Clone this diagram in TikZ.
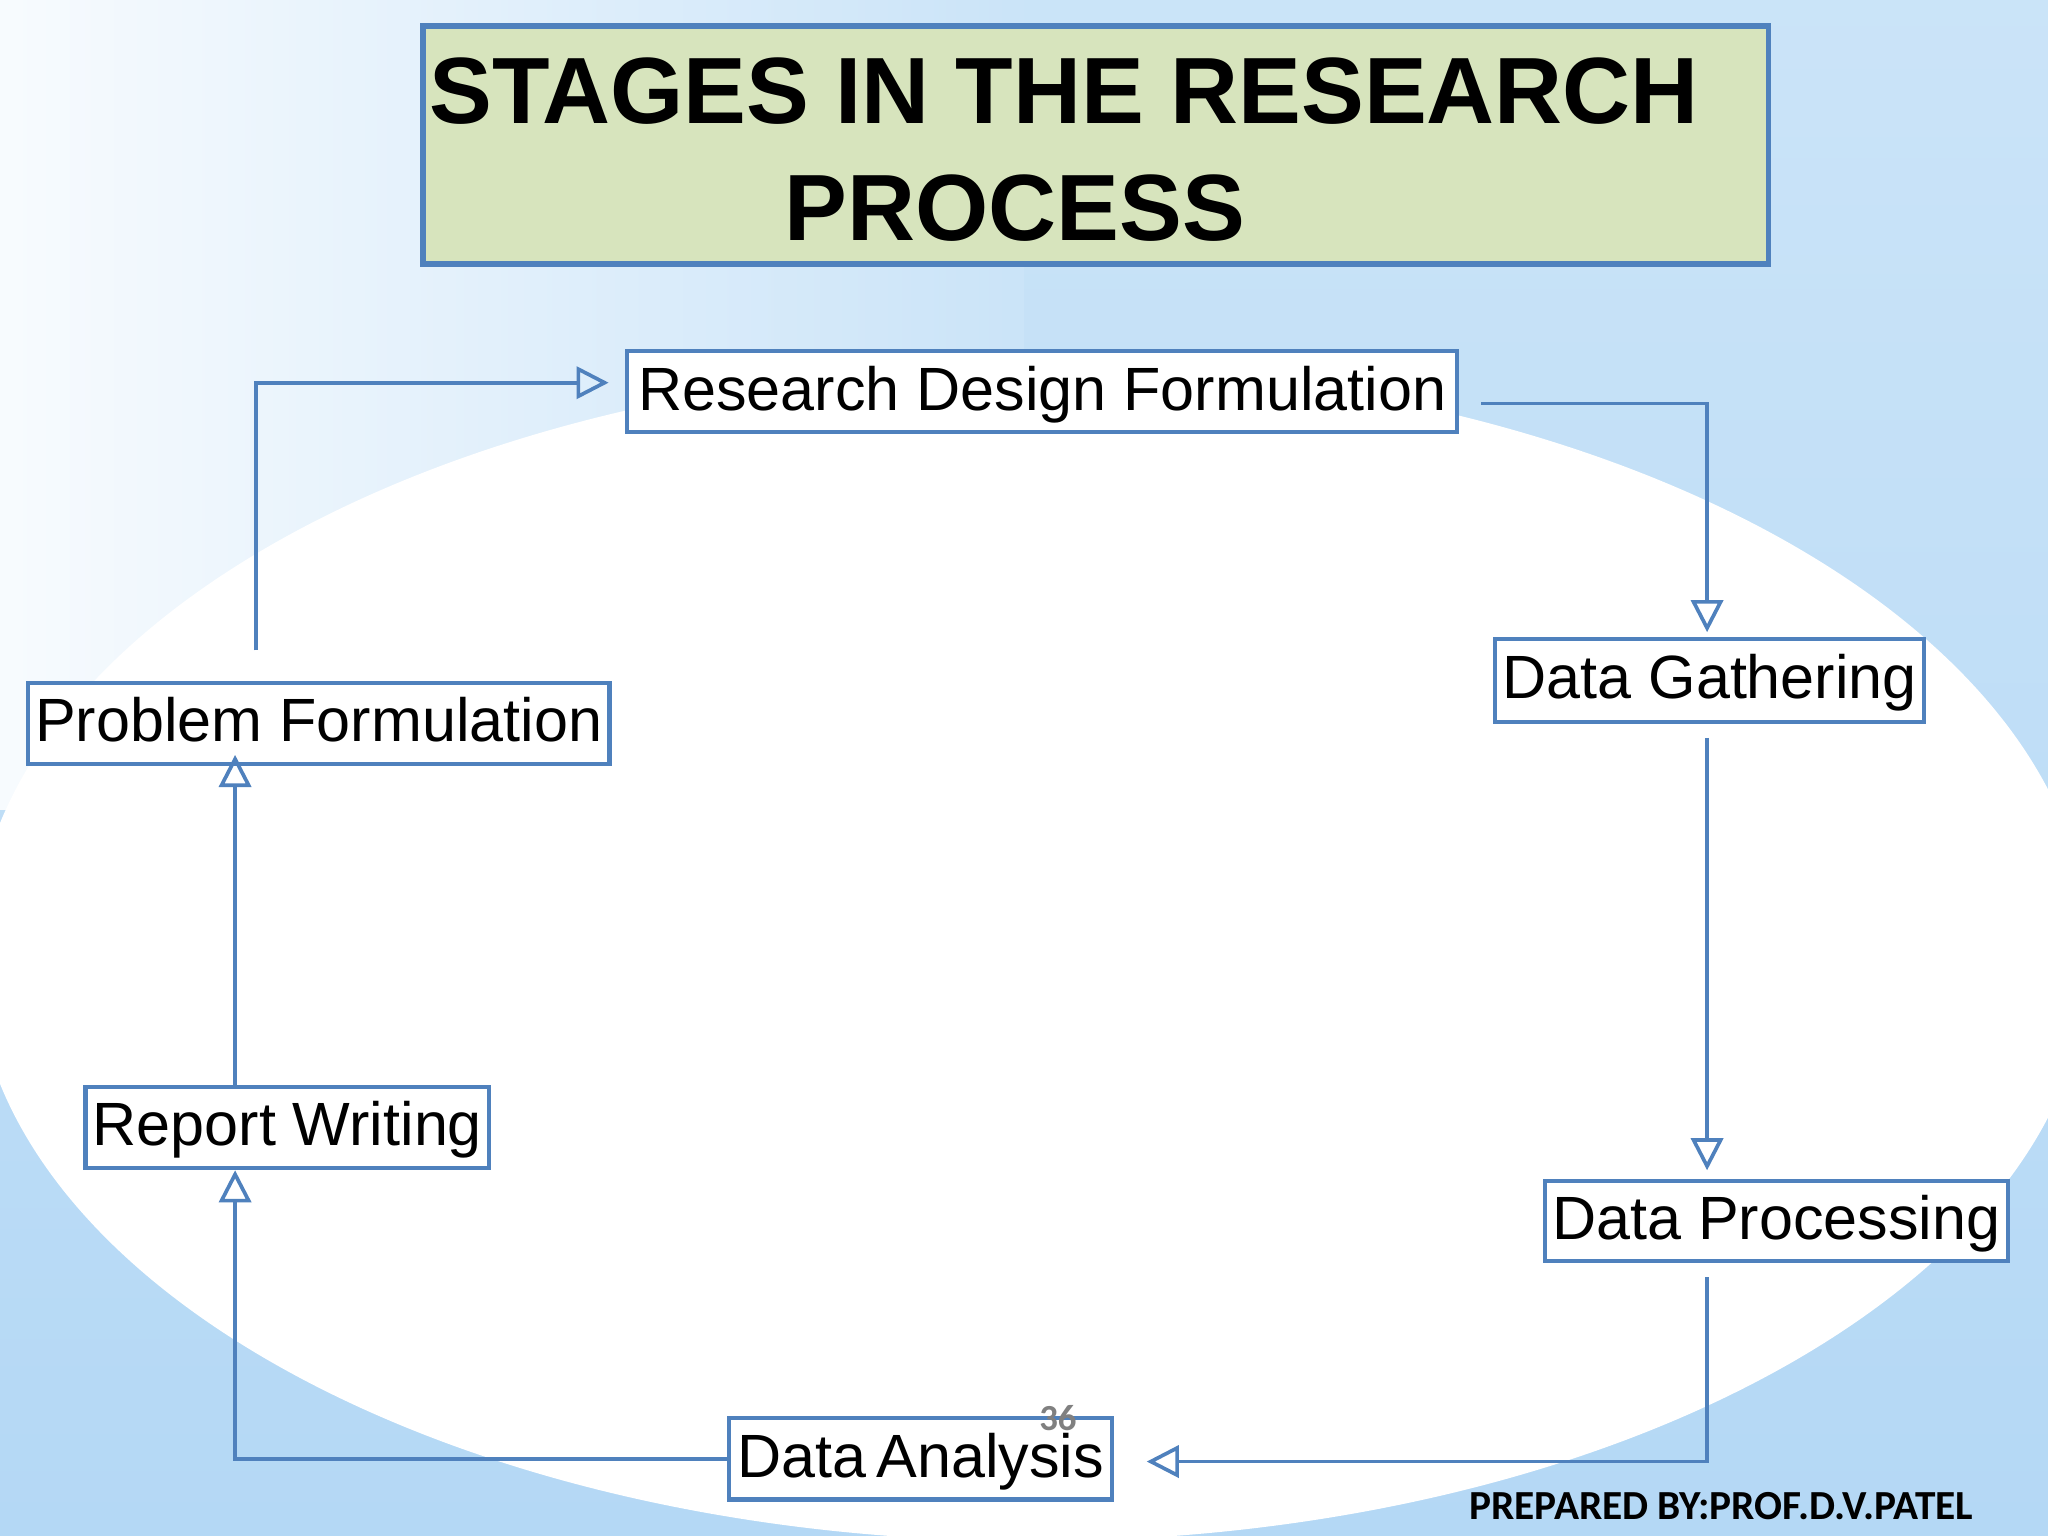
\documentclass[tikz,border=0pt]{standalone}
\usepackage{fontspec}
\setmainfont{Liberation Sans}
\newfontfamily\carl{Carlito}
\usetikzlibrary{arrows.meta}
\definecolor{bl}{HTML}{4F81BD}
\definecolor{sky}{HTML}{B4D8F5}
\definecolor{ttl}{HTML}{D7E4BD}
\begin{document}
\begin{tikzpicture}[x=0.01cm,y=-0.01cm,
 box/.style={draw=bl,line width=0.9pt,fill=white,inner sep=1pt,font=\fontsize{13.3}{16}\selectfont,text height=11pt,text depth=3pt},
 con/.style={draw=bl,line width=0.8pt},
 arr/.style={con,-{Triangle[open,length=7pt,width=7pt]}}]
\useasboundingbox (0,0) rectangle (1568,1176);
\shade[top color=sky!70!white,bottom color=sky] (0,0) rectangle (1568,1176);
\shade[left color=white!90!sky,right color=sky!70!white] (0,0) rectangle (784,620);
\fill[white] (790,730) ellipse (810 and 450);
\path[draw=bl,line width=1.2pt,fill=ttl] (324,20) rectangle (1354,202);
\node[anchor=west,inner sep=0pt,font=\bfseries\fontsize{20.5}{24}\selectfont] (t1) at (328,70) {STAGES IN THE RESEARCH};
\node[font=\bfseries\fontsize{20.5}{24}\selectfont] (t2) at (777,159) {PROCESS};
\node[box,minimum width=6.35cm,minimum height=0.62cm] (rd) at (798,300) {Research Design Formulation};
\node[box,minimum width=3.28cm,minimum height=0.63cm] (dg) at (1309,521) {Data Gathering};
\node[box,minimum width=4.45cm,minimum height=0.62cm] (pf) at (244,554) {Problem Formulation};
\node[box,minimum width=3.09cm,minimum height=0.62cm] (rw) at (220,863) {Report Writing};
\node[box,minimum width=3.54cm,minimum height=0.61cm] (dp) at (1360,935) {Data Processing};
\node[box,minimum width=2.93cm,minimum height=0.62cm] (da) at (705,1117) {Data\,Analysis};
\coordinate (a1) at (196,498); \coordinate (a2) at (466,293);
\coordinate (b1) at (1134,309); \coordinate (b2) at (1307,484);
\coordinate (c1) at (1307,565); \coordinate (c2) at (1307,896);
\coordinate (d1) at (1307,978); \coordinate (d2) at (878,1119);
\coordinate (e2) at (180,896);
\coordinate (f1) at (180,832); \coordinate (f2) at (180,578);
\draw[arr] (a1) |- (a2);
\draw[arr] (b1) -| (b2);
\draw[arr] (c1) -- (c2);
\draw[arr] (d1) |- (d2);
\draw[arr] (da.west) -| (e2);
\draw[arr] (f1) -- (f2);
\node[text=gray,inner sep=0pt,font=\carl\bfseries\fontsize{8}{9}\selectfont] (n36) at (810,1086) {36};
\node[font=\carl\bfseries\fontsize{9}{11}\selectfont] (prep) at (1318,1153) {PREPARED BY:PROF.D.V.PATEL};
\end{tikzpicture}
\end{document}
